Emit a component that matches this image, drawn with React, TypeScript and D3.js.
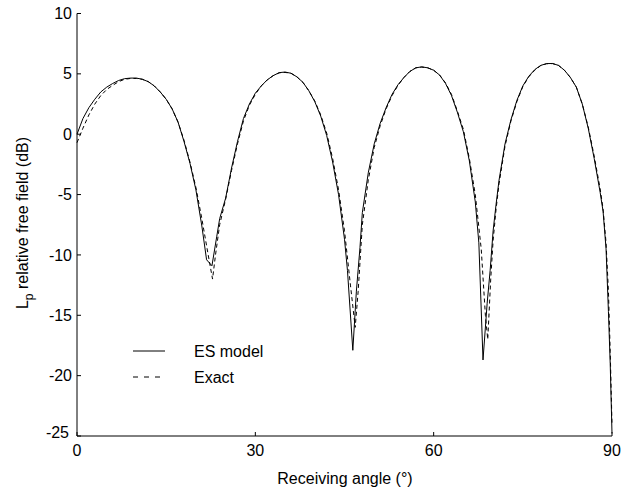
import React from "react";
import * as d3 from "d3";

const xTicks = [0, 30, 60, 90];
const yTicks = [10, 5, 0, -5, -10, -15, -20, -25];

const esAngle = [0, 1, 2, 3, 4, 5, 6, 7, 8, 9, 10, 11, 12, 13, 14, 15, 16, 17, 18, 19, 20, 21, 21.8, 22.7, 23.5, 24, 25, 26, 27, 28, 29, 30, 31, 32, 33, 34, 35, 36, 37, 38, 39, 40, 41, 42, 43, 44, 45, 45.5, 46.4, 47, 47.6, 48, 49, 50, 51, 52, 53, 54, 55, 56, 57, 58, 59, 60, 61, 62, 63, 64, 65, 66, 67, 67.6, 68.3, 69, 69.5, 70, 70.5, 71, 72, 73, 74, 75, 76, 77, 78, 79, 80, 81, 82, 83, 84, 85, 86, 87, 88, 88.5, 89, 89.4, 89.7, 90];
const esDb = [0.0, 1.3, 2.2, 2.9, 3.5, 3.9, 4.2, 4.45, 4.6, 4.65, 4.65, 4.55, 4.35, 4.0, 3.5, 2.9, 2.1, 1.0, -0.6, -2.4, -4.6, -7.6, -10.4, -10.9, -8.5, -7.0, -5.3, -2.8, -0.6, 1.3, 2.5, 3.4, 4.0, 4.5, 4.85, 5.1, 5.15, 5.05, 4.75, 4.3, 3.6, 2.7, 1.5, -0.1, -2.3, -5.0, -8.7, -11.3, -17.9, -13.0, -9.4, -6.5, -3.2, -0.8, 0.9, 2.2, 3.3, 4.1, 4.7, 5.2, 5.5, 5.58, 5.5, 5.3, 4.9, 4.2, 3.2, 1.8, 0.2, -2.2, -5.6, -9.0, -18.7, -14.0, -11.3, -8.0, -5.8, -3.8, -0.8, 1.2, 2.8, 4.0, 4.8, 5.35, 5.7, 5.85, 5.86, 5.7, 5.3, 4.7, 3.9, 2.5, 0.5, -2.0, -4.8, -6.4, -9.5, -14.7, -19.0, -24.8];

const exAngle = [0, 1, 2, 3, 4, 5, 6, 7, 8, 9, 10, 11, 12, 13, 14, 15, 16, 17, 18, 19, 20, 21, 22, 22.8, 23.3, 24, 25, 26, 27, 28, 29, 30, 31, 32, 33, 34, 35, 36, 37, 38, 39, 40, 41, 42, 43, 44, 45, 46, 46.8, 47.3, 48, 49, 50, 51, 52, 53, 54, 55, 56, 57, 58, 59, 60, 61, 62, 63, 64, 65, 66, 67, 68, 68.7, 69.1, 69.6, 70, 70.5, 71, 72, 73, 74, 75, 76, 77, 78, 79, 80, 81, 82, 83, 84, 85, 86, 87, 88, 88.5, 89, 89.4, 89.7, 90];
const exDb = [-0.7, 0.5, 1.6, 2.5, 3.2, 3.7, 4.05, 4.35, 4.55, 4.62, 4.62, 4.55, 4.35, 4.0, 3.5, 2.9, 2.1, 1.0, -0.5, -2.3, -4.4, -7.0, -9.8, -12.0, -10.0, -7.5, -5.4, -3.0, -0.8, 1.1, 2.4, 3.3, 4.0, 4.5, 4.85, 5.08, 5.12, 5.05, 4.75, 4.3, 3.6, 2.75, 1.6, 0.1, -2.0, -4.6, -8.0, -12.5, -16.0, -13.0, -7.5, -3.8, -1.1, 0.7, 2.1, 3.2, 4.05, 4.7, 5.2, 5.5, 5.56, 5.5, 5.3, 4.9, 4.25, 3.3, 1.9, 0.4, -2.0, -5.0, -9.5, -15.0, -17.0, -12.0, -8.8, -6.2, -4.1, -1.0, 1.1, 2.7, 3.95, 4.75, 5.3, 5.68, 5.84, 5.85, 5.7, 5.3, 4.7, 3.9, 2.5, 0.6, -1.8, -4.5, -6.2, -9.0, -13.0, -18.0, -24.0];

const W = 635;
const H = 493;
const font = "'Liberation Sans', Arial, Helvetica, sans-serif";

export default function App() {
  const x = d3.scaleLinear().domain([0, 90]).range([77, 612]);
  const y = d3.scaleLinear().domain([-25, 10]).range([436, 13.5]);

  const line = d3
    .line<[number, number]>()
    .x((d) => x(d[0]))
    .y((d) => y(d[1]));

  const esPts = esAngle.map((a, i) => [a, esDb[i]] as [number, number]);
  const exPts = exAngle.map((a, i) => [a, exDb[i]] as [number, number]);

  return (
    <svg
      width={W}
      height={H}
      style={{ position: "absolute", left: 0, top: 0, background: "#fff" }}
      fontFamily={font}
    >
      <rect x={0} y={0} width={W} height={H} fill="#fff" />
      {/* curves */}
      <path d={line(exPts) || ""} fill="none" stroke="#000" strokeWidth={1} strokeDasharray="4,3" />
      <path d={line(esPts) || ""} fill="none" stroke="#000" strokeWidth={1} />

      {/* axes */}
      <line x1={77} x2={77} y1={y(10)} y2={y(-25)} stroke="#000" strokeWidth={1} />
      <line x1={77} x2={x(90)} y1={436} y2={436} stroke="#000" strokeWidth={1} />
      {yTicks.map((t) => (
        <g key={"y" + t}>
          <line x1={77} x2={81} y1={y(t)} y2={y(t)} stroke="#000" strokeWidth={1} />
          <text
            x={t === -25 ? 69 : 72}
            y={t === -25 ? y(t) - 4 : y(t)}
            dy="0.35em"
            textAnchor="end"
            fontSize={16}
            fill="#000"
          >
            {t}
          </text>
        </g>
      ))}
      {xTicks.map((t) => (
        <g key={"x" + t}>
          <line x1={x(t)} x2={x(t)} y1={436} y2={432} stroke="#000" strokeWidth={1} />
          <text x={x(t)} y={456} textAnchor="middle" fontSize={16} fill="#000">
            {t}
          </text>
        </g>
      ))}

      {/* axis labels */}
      <text x={345} y={484} textAnchor="middle" fontSize={16} fill="#000">
        Receiving angle (°)
      </text>
      <text
        transform="translate(28,223) rotate(-90)"
        textAnchor="middle"
        fontSize={16}
        fill="#000"
      >
        L<tspan fontSize={12} dy={5}>p</tspan>
        <tspan dy={-5}> relative free field (dB)</tspan>
      </text>

      {/* legend */}
      <line x1={133} x2={165} y1={351} y2={351} stroke="#000" strokeWidth={1} />
      <text x={194} y={351} dy="0.35em" fontSize={16} fill="#000">
        ES model
      </text>
      <line x1={133} x2={165} y1={377} y2={377} stroke="#000" strokeWidth={1} strokeDasharray="5,6" />
      <text x={194} y={377} dy="0.35em" fontSize={16} fill="#000">
        Exact
      </text>
    </svg>
  );
}
